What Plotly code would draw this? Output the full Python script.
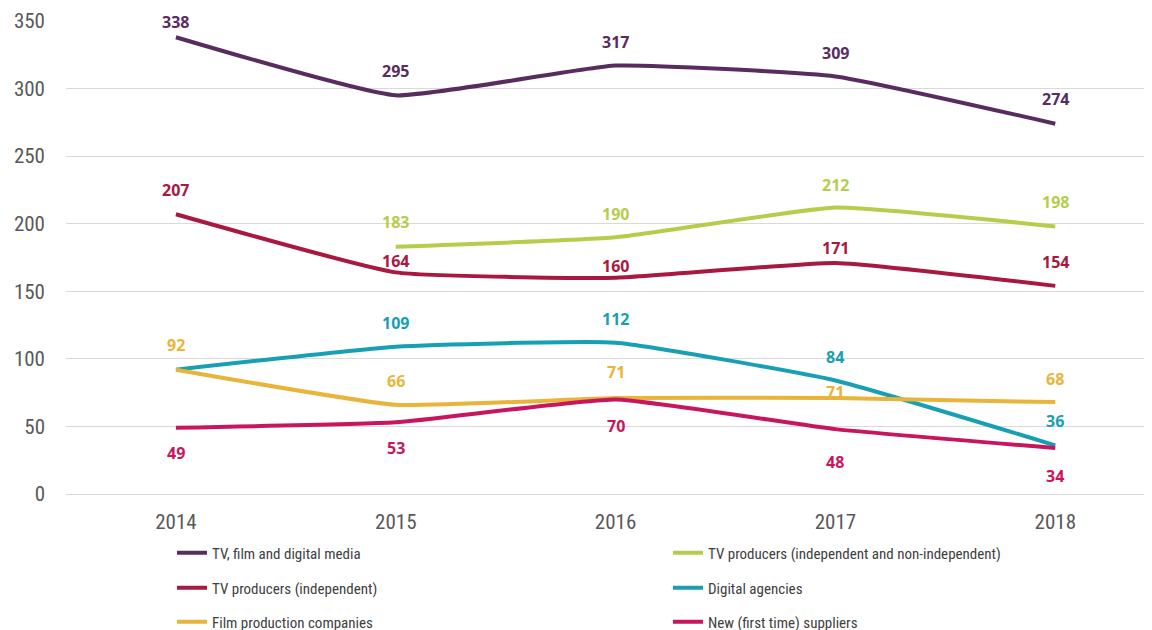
import plotly.graph_objects as go

years = ["2014", "2015", "2016", "2017", "2018"]

tv_film_digital = [338, 295, 317, 309, 274]
tv_prod_all = [None, 183, 190, 212, 198]
tv_prod_indep = [207, 164, 160, 171, 154]
digital_agencies = [92, 109, 112, 84, 36]
film_production = [92, 66, 71, 71, 68]
new_suppliers = [49, 53, 70, 48, 34]

y_ticks = [0, 50, 100, 150, 200, 250, 300, 350]

series = [
    ("TV, film and digital media", tv_film_digital, "#592C5F"),
    ("TV producers (independent and non-independent)", tv_prod_all, "#B6CD4B"),
    ("TV producers (independent)", tv_prod_indep, "#A8183F"),
    ("Digital agencies", digital_agencies, "#179FB4"),
    ("Film production companies", film_production, "#E8B53A"),
    ("New (first time) suppliers", new_suppliers, "#C8165E"),
]

# label offsets in px (style, not data); None = hide label
label_shift = [
    [15, 24, 24, 23, 25],
    [None, 25, 23, 23, 24],
    [24, 11, 12, 15, 24],
    [None, 24, 24, 23, 24],
    [25, 24, 26, 6, 23],
    [-25, -26, -27, -33, -28],
]

legend_rows = ["legend", "legend", "legend2", "legend2", "legend3", "legend3"]

fig = go.Figure()
annotations = []
for (name, vals, color), shifts, lg in zip(series, label_shift, legend_rows):
    fig.add_trace(go.Scatter(
        x=years, y=vals, name=name, mode="lines",
        line=dict(color=color, width=4, shape="spline", smoothing=0.4),
        legend=lg,
    ))
    for i, (v, s) in enumerate(zip(vals, shifts)):
        if v is None or s is None:
            continue
        annotations.append(dict(
            x=i, y=v, xref="x", yref="y", text=f"<b>{v}</b>", showarrow=False,
            yshift=s, font=dict(color=color, size=16, family="Open Sans, Liberation Sans"),
        ))

font_family = "Liberation Sans Narrow, Roboto Condensed, Open Sans, Liberation Sans"

legend_common = dict(
    orientation="h", xanchor="left", yanchor="middle", x=0.0976,
    font=dict(size=15, color="#404040", family=font_family),
    entrywidth=451, entrywidthmode="pixels", bgcolor="rgba(0,0,0,0)",
)

fig.update_layout(
    width=1152, height=630,
    margin=dict(l=58, r=8, t=13, b=144, autoexpand=False),
    paper_bgcolor="white", plot_bgcolor="white",
    font=dict(family=font_family, color="#595959"),
    showlegend=True,
    legend=dict(legend_common, y=-0.1247),
    legend2=dict(legend_common, y=-0.1987),
    legend3=dict(legend_common, y=-0.2706),
    annotations=annotations,
    xaxis=dict(
        type="category", range=[-0.5, 4.44], showgrid=False,
        showline=True, linecolor="#D9D9D9", linewidth=1,
        tickfont=dict(size=21, color="#595959"), ticks="",
        ticklabelstandoff=9,
    ),
    yaxis=dict(
        range=[0, 350], tickvals=y_ticks, showgrid=True, gridcolor="#D9D9D9",
        gridwidth=1, zeroline=False, showline=False,
        tickfont=dict(size=21, color="#595959"), ticks="",
        ticklabelstandoff=20,
    ),
)

fig.write_html("out.html")
